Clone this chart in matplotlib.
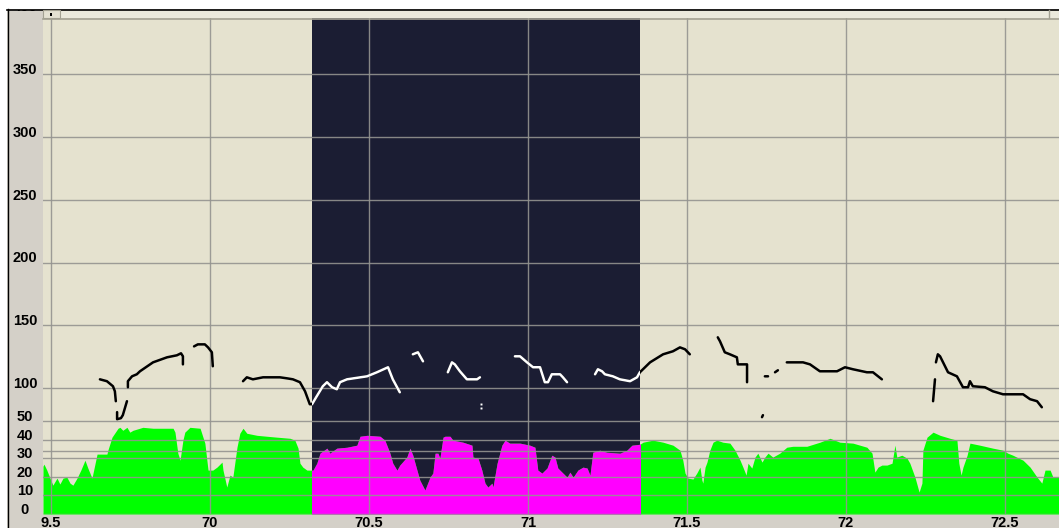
import numpy as np
import matplotlib
matplotlib.use("Agg")
import matplotlib.pyplot as plt
from matplotlib.patches import Rectangle
from matplotlib.lines import Line2D

plt.rcParams["font.family"] = ["Liberation Sans", "DejaVu Sans"]
plt.rcParams["font.weight"] = "bold"

W, H = 1059, 528

# time axis (s)
time_ticks = [69.5, 70.0, 70.5, 71.0, 71.5, 72.0, 72.5]
time_labels = ["9.5", "70", "70.5", "71", "71.5", "72", "72.5"]
t_view = (69.475, 72.670)

# selected interval
sel_start, sel_end = 70.321, 71.352

# pitch scale (Hz) and intensity scale (dB)
pitch_ticks = [50, 100, 150, 200, 250, 300, 350, 400]
pitch_labels = ["", "100", "150", "200", "250", "300", "350", "400"]
db_ticks = [0, 10, 20, 30, 40, 50]
db_labels = ["0", "10", "20", "30", "40", "50"]

# intensity contour
int_t = [
    69.475, 69.478, 69.487, 69.497, 69.506, 69.519, 69.528, 69.538, 69.550, 69.560,
    69.569, 69.582, 69.594, 69.607, 69.616, 69.629, 69.645, 69.676, 69.679, 69.692,
    69.711, 69.717, 69.726, 69.739, 69.748, 69.758, 69.789, 69.821, 69.884, 69.890,
    69.899, 69.906, 69.915, 69.921, 69.937, 69.969, 69.984, 69.994, 70.009, 70.022,
    70.038, 70.041, 70.053, 70.063, 70.072, 70.085, 70.094, 70.104, 70.116, 70.148,
    70.179, 70.211, 70.252, 70.267, 70.277, 70.283, 70.292, 70.305, 70.318,
    70.324, 70.336, 70.346, 70.368, 70.377, 70.399, 70.431, 70.462, 70.472, 70.494,
    70.535, 70.550, 70.566, 70.575, 70.588, 70.597, 70.619, 70.629, 70.638, 70.651,
    70.660, 70.676, 70.686, 70.692, 70.701, 70.708, 70.717, 70.723, 70.733, 70.739,
    70.755, 70.764, 70.796, 70.824, 70.827, 70.843, 70.855, 70.865, 70.874, 70.887,
    70.890, 70.903, 70.918, 70.928, 70.943, 70.975, 71.006, 71.022, 71.031, 71.044,
    71.060, 71.075, 71.085, 71.094, 71.110, 71.123, 71.132, 71.142, 71.157, 71.173,
    71.186, 71.195, 71.204, 71.226, 71.248, 71.289, 71.311, 71.327, 71.352,
    71.362, 71.393, 71.425, 71.456, 71.478, 71.487, 71.494, 71.503, 71.519, 71.531,
    71.541, 71.547, 71.550, 71.557, 71.563, 71.572, 71.582, 71.594, 71.613, 71.635,
    71.651, 71.667, 71.676, 71.686, 71.692, 71.704, 71.714, 71.723, 71.736, 71.745,
    71.755, 71.770, 71.792, 71.814, 71.833, 71.877, 71.918, 71.950, 71.981, 72.022,
    72.066, 72.082, 72.091, 72.101, 72.113, 72.129, 72.145, 72.154, 72.160, 72.176,
    72.192, 72.201, 72.217, 72.230, 72.239, 72.242, 72.255, 72.274, 72.296, 72.327,
    72.349, 72.355, 72.362, 72.368, 72.381, 72.390, 72.421, 72.462, 72.494, 72.509,
    72.525, 72.557, 72.579, 72.601, 72.616, 72.626, 72.642, 72.651, 72.670,
]
int_db = [
    25.7, 26.8, 23.6, 19.3, 15.5, 19.3, 16.1, 19.3, 19.8, 16.6,
    15.5, 19.3, 23.6, 28.9, 24.7, 19.3, 32.2, 32.2, 34.3, 41.3,
    46.1, 46.6, 45.0, 46.6, 44.0, 45.0, 46.6, 46.1, 46.1, 44.0,
    32.7, 28.9, 39.7, 44.0, 46.6, 46.1, 38.1, 23.6, 23.6, 25.2,
    27.9, 23.6, 14.5, 20.9, 19.8, 35.9, 43.4, 46.1, 43.4, 42.3,
    41.8, 41.3, 40.7, 39.7, 35.4, 27.3, 25.2, 23.6, 23.6,
    23.6, 27.3, 32.7, 35.4, 32.7, 35.4, 35.9, 37.0, 41.8, 42.3,
    41.8, 39.7, 32.7, 27.3, 23.6, 26.3, 30.6, 35.4, 31.6, 23.6,
    18.2, 12.9, 17.2, 19.8, 22.0, 32.7, 32.7, 30.0, 41.3, 41.8,
    41.8, 39.7, 38.6, 37.0, 30.6, 30.0, 23.6, 16.6, 14.5, 16.6,
    14.5, 27.3, 37.0, 39.7, 38.1, 38.1, 37.0, 35.9, 23.6, 22.0,
    24.7, 31.6, 30.6, 24.7, 22.0, 19.8, 22.5, 19.8, 23.6, 25.2,
    24.7, 20.9, 33.2, 34.3, 33.2, 32.7, 34.3, 37.0, 37.5,
    38.6, 39.7, 38.6, 37.0, 34.3, 28.9, 22.0, 19.3, 18.8, 22.0,
    25.2, 18.2, 16.6, 25.2, 27.9, 34.3, 38.6, 39.7, 38.6, 38.1,
    34.3, 28.9, 25.2, 20.9, 27.3, 24.7, 30.6, 32.7, 27.9, 30.6,
    32.7, 30.6, 32.7, 35.9, 36.4, 36.4, 38.6, 40.7, 38.6, 38.1,
    35.9, 32.7, 22.5, 25.2, 26.3, 26.3, 27.3, 37.0, 30.6, 31.6,
    30.0, 27.3, 19.8, 11.8, 16.6, 34.3, 41.3, 44.0, 42.3, 40.7,
    39.7, 27.3, 20.9, 25.2, 31.6, 38.1, 37.0, 35.4, 34.3, 32.7,
    31.6, 28.9, 25.2, 19.8, 16.6, 23.6, 23.6, 19.8, 19.8,
]

# pitch track, voiceless gaps as NaN
nan = np.nan
pitch_t = [
    69.654, 69.676, 69.695, 69.701, 69.704, nan,
    69.708, 69.708, 69.720, 69.726, 69.739, nan,
    69.742, 69.742, 69.755, 69.770, 69.780, 69.821, 69.865, 69.896, 69.909, 69.915, 69.915, nan,
    69.950, 69.962, 69.984, 69.994, 70.006, 70.009, nan,
    70.104, 70.116, 70.135, 70.167, 70.220, 70.242, 70.261, 70.283, 70.299, 70.314, 70.321, 70.336,
    70.355, 70.368, 70.384, 70.399, 70.409, 70.431, 70.472, 70.494, 70.525, 70.560, 70.575, 70.597, nan,
    70.638, 70.654, 70.670, nan,
    70.748, 70.761, 70.770, 70.786, 70.808, 70.840, 70.849, nan,
    70.959, 70.975, 70.997, 71.016, 71.038, 71.047, 71.053, 71.063, 71.075, 71.101, 71.110, 71.123, nan,
    71.211, 71.220, 71.233, 71.242, 71.267, 71.289, 71.321, 71.343, 71.352, 71.384, 71.425, 71.456,
    71.478, 71.494, 71.509, nan,
    71.597, 71.604, 71.619, 71.635, 71.657, 71.660, 71.689, 71.689, nan,
    71.736, 71.739, nan,
    71.745, 71.755, nan,
    71.777, 71.786, nan,
    71.814, 71.865, 71.887, 71.918, 71.972, 71.997, 72.022, 72.066, 72.085, 72.113, nan,
    72.274, 72.280, nan,
    72.283, 72.289, 72.296, 72.321, 72.349, 72.368, 72.384, 72.390, 72.399, 72.437, 72.462, 72.494,
    72.557, 72.579, 72.601, 72.616,
]
pitch_hz = [
    107.1, 105.6, 101.6, 97.6, 89.7, nan,
    81.0, 75.4, 76.2, 78.6, 89.7, nan,
    100.8, 105.6, 109.5, 111.1, 113.5, 120.6, 124.6, 126.2, 127.8, 125.4, 119.0, nan,
    133.3, 134.9, 134.9, 132.5, 128.6, 117.5, nan,
    105.6, 108.7, 107.1, 108.7, 108.7, 107.9, 107.1, 104.8, 97.6, 87.3, 87.3, 93.7,
    101.6, 104.8, 100.8, 99.2, 104.8, 107.1, 108.7, 109.5, 112.7, 116.7, 107.1, 96.8, nan,
    127.0, 128.6, 121.4, nan,
    112.7, 120.6, 119.0, 113.5, 107.1, 107.1, 108.7, nan,
    125.4, 125.4, 120.6, 116.7, 116.7, 109.5, 104.8, 104.8, 111.1, 111.1, 108.7, 104.8, nan,
    111.1, 115.1, 113.5, 111.1, 109.5, 107.1, 105.6, 108.7, 112.7, 120.6, 127.0, 129.4,
    132.5, 131.0, 127.0, nan,
    140.5, 137.3, 128.6, 127.0, 124.6, 119.0, 119.0, 104.8, nan,
    77.0, 78.6, nan,
    109.5, 109.5, nan,
    112.7, 114.3, nan,
    120.6, 120.6, 119.0, 113.5, 113.5, 116.7, 115.1, 112.7, 112.7, 107.1, nan,
    89.7, 107.1, nan,
    120.6, 127.0, 125.4, 112.7, 109.5, 100.8, 100.8, 105.6, 101.6, 100.8, 97.6, 95.2,
    95.2, 91.3, 89.7, 84.9,
]
# isolated pitch points
dot_t = [70.852, 70.852]
dot_hz = [87.3, 84.1]

BEIGE = "#e5e2cf"
NAVY = "#1b1d33"
PANEL = "#d4d0c8"
GRID = "#949490"


def fx(px):
    return px / W


def fy(py):
    return 1 - py / H


fig = plt.figure(figsize=(W / 100, H / 100), dpi=100, facecolor="white")

# window chrome: grey panel with a black frame line on the top and left
fig.add_artist(Rectangle((fx(7), 0), 1 - fx(7), fy(9), transform=fig.transFigure,
                         facecolor=PANEL, edgecolor="none", zorder=-1))
fig.add_artist(Line2D([fx(7.5), fx(7.5)], [0, fy(9)], transform=fig.transFigure,
                      color="black", lw=1.0, zorder=6))
fig.add_artist(Line2D([fx(7), 1], [fy(9.5), fy(9.5)], transform=fig.transFigure,
                      color="black", lw=1.2, zorder=6))

ax_int = fig.add_axes([fx(43), fy(514), fx(1016), (514 - 11) / H])
ax_int.set_facecolor(BEIGE)
ax_int.set_xlim(*t_view)
ax_int.set_ylim(0, 50 * 503 / 93)

span = ax_int.axvspan(sel_start, sel_end, color=NAVY, lw=0, zorder=0.5)

ax_int.fill_between(int_t, 0, int_db, color="#00ff00", lw=0, zorder=1)
sel_fill = ax_int.fill_between(int_t, 0, int_db, color="#ff00ff", lw=0, zorder=1.1)
sel_fill.set_clip_path(span)

ax_int.set_axisbelow(False)
ax_int.grid(True, color=GRID, lw=1.0, alpha=0.9)
ax_int.set_xticks(time_ticks, time_labels)
ax_int.set_yticks(db_ticks, db_labels)

# pitch axis drawn on top so its grid and contour sit above the fills
ax_p = ax_int.twinx()
ax_p.patch.set_visible(False)
ax_p.set_ylim(0, 400)
ax_p.yaxis.tick_left()
ax_p.set_yticks(pitch_ticks, pitch_labels)
ax_p.grid(True, axis="y", color=GRID, lw=1.0, alpha=0.9)

ax_p.plot(pitch_t, pitch_hz, color="black", lw=1.8, solid_capstyle="round", zorder=3)
white_line, = ax_p.plot(pitch_t, pitch_hz, color="white", lw=1.8,
                        solid_capstyle="round", zorder=3.1)
white_line.set_clip_path(span)
ax_p.plot(dot_t, dot_hz, ls="none", marker="s", ms=1.4, color="white", mec="none", zorder=3.1)

for a in (ax_int, ax_p):
    for s in a.spines.values():
        s.set_visible(False)
    a.tick_params(length=0, labelsize=10.5, colors="black")

ax_int.tick_params(axis="x", pad=1.5)
ax_int.tick_params(axis="y", pad=13)
ax_p.tick_params(axis="y", pad=13)

fig.canvas.draw()
label_clip = Rectangle((0, 0), 1, fy(10), transform=fig.transFigure)
for lbl in ax_int.get_yticklabels() + ax_p.get_yticklabels():
    lbl.set_ha("center")
    lbl.set_va("baseline")
    lbl.set_clip_path(label_clip)

# ruler strip along the top edge of the plot
fig.add_artist(Rectangle((fx(43), fy(18)), 1 - fx(43), fy(10) - fy(18), transform=fig.transFigure,
                         facecolor="#ebe9dc", edgecolor="none", zorder=5))
fig.add_artist(Line2D([fx(43), 1], [fy(18.5), fy(18.5)], transform=fig.transFigure,
                      color="#a3a192", lw=1.2, zorder=6))
fig.add_artist(Rectangle((fx(43), fy(18)), fx(17), fy(10) - fy(18), transform=fig.transFigure,
                         facecolor="#e4e1d2", edgecolor="#a3a192", lw=0.8, zorder=6))
fig.add_artist(Rectangle((fx(50), fy(15.5)), fx(2), fy(12.5) - fy(15.5), transform=fig.transFigure,
                         facecolor="black", edgecolor="none", zorder=7))
fig.add_artist(Line2D([fx(1048.5), fx(1048.5)], [fy(18), fy(10)], transform=fig.transFigure,
                      color="#a3a192", lw=1.0, zorder=6))

fig.savefig("out.png", dpi=100, facecolor=fig.get_facecolor())
